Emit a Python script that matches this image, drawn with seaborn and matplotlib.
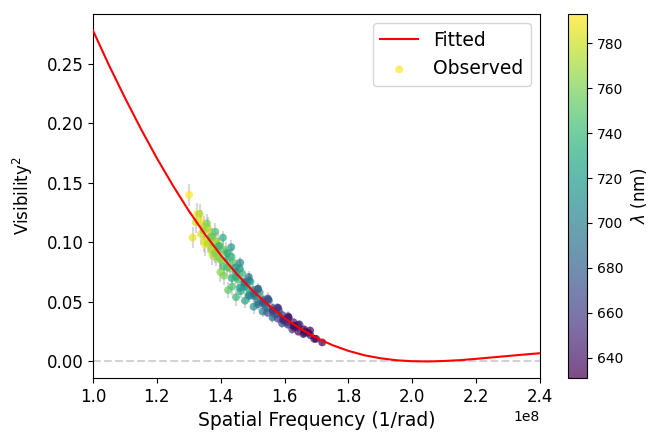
# Squared visibility vs spatial frequency - uniform disk fit
import numpy as np
import pandas as pd
import matplotlib
matplotlib.use("Agg")
import matplotlib.pyplot as plt
import seaborn as sns

# wavelength channels (nm), short -> long
wavelength = [631, 638, 645, 651, 658, 665, 672, 678, 685, 692, 699, 705, 712,
              719, 726, 732, 739, 746, 753, 759, 766, 773, 780, 786, 793]
v2_err = [0.003, 0.003, 0.003, 0.004, 0.004, 0.004, 0.004, 0.004, 0.005, 0.005,
          0.005, 0.005, 0.006, 0.006, 0.006, 0.006, 0.007, 0.007, 0.007, 0.008,
          0.008, 0.008, 0.009, 0.009, 0.009]

# spatial frequency (1e8 / rad) and V^2 for five baselines
sf_b1 = [1.630, 1.612, 1.597, 1.580, 1.563, 1.549, 1.533, 1.517, 1.504, 1.488, 1.474, 1.461, 1.447,
         1.433, 1.421, 1.407, 1.394, 1.383, 1.370, 1.357, 1.346, 1.334, 1.322, 1.312, 1.301]
v2_b1 = [0.030, 0.037, 0.035, 0.045, 0.043, 0.052, 0.050, 0.061, 0.057, 0.071, 0.066, 0.083, 0.079,
         0.096, 0.091, 0.104, 0.097, 0.109, 0.105, 0.116, 0.110, 0.124, 0.117, 0.104, 0.140]

sf_b2 = [1.661, 1.643, 1.628, 1.610, 1.593, 1.579, 1.563, 1.546, 1.533, 1.517, 1.502, 1.489, 1.475,
         1.460, 1.448, 1.434, 1.421, 1.409, 1.396, 1.383, 1.373, 1.360, 1.348, 1.338, 1.326]
v2_b2 = [0.027, 0.025, 0.033, 0.031, 0.039, 0.036, 0.045, 0.041, 0.052, 0.048, 0.060, 0.055, 0.067,
         0.062, 0.075, 0.070, 0.086, 0.080, 0.097, 0.091, 0.104, 0.099, 0.113, 0.107, 0.124]

sf_b3 = [1.680, 1.661, 1.643, 1.628, 1.611, 1.594, 1.577, 1.563, 1.547, 1.532, 1.516, 1.504, 1.489,
         1.474, 1.460, 1.448, 1.434, 1.421, 1.408, 1.397, 1.384, 1.371, 1.359, 1.349, 1.337]
v2_b3 = [0.026, 0.024, 0.031, 0.029, 0.038, 0.035, 0.045, 0.042, 0.053, 0.049, 0.061, 0.055, 0.068,
         0.063, 0.078, 0.071, 0.088, 0.079, 0.094, 0.086, 0.101, 0.094, 0.112, 0.101, 0.118]

sf_b4 = [1.693, 1.674, 1.659, 1.641, 1.624, 1.609, 1.592, 1.576, 1.562, 1.546, 1.531, 1.518, 1.503,
         1.488, 1.476, 1.462, 1.448, 1.436, 1.423, 1.410, 1.399, 1.386, 1.374, 1.363, 1.351]
v2_b4 = [0.019, 0.024, 0.023, 0.029, 0.027, 0.033, 0.032, 0.040, 0.037, 0.045, 0.042, 0.050, 0.046,
         0.056, 0.051, 0.059, 0.054, 0.063, 0.060, 0.072, 0.075, 0.088, 0.090, 0.102, 0.098]

sf_b5 = [1.718, 1.699, 1.681, 1.665, 1.647, 1.630, 1.613, 1.599, 1.582, 1.566, 1.551, 1.538, 1.522,
         1.508, 1.493, 1.481, 1.467, 1.453, 1.440, 1.428, 1.415, 1.402, 1.390, 1.379, 1.367]
v2_b5 = [0.016, 0.019, 0.022, 0.025, 0.031, 0.029, 0.037, 0.034, 0.043, 0.040, 0.051, 0.047, 0.058,
         0.055, 0.067, 0.062, 0.074, 0.069, 0.083, 0.078, 0.092, 0.085, 0.099, 0.093, 0.106]

# fitted model
fit_sf = [1.00, 1.05, 1.10, 1.15, 1.20, 1.25, 1.30, 1.35, 1.40, 1.45, 1.50, 1.55, 1.60, 1.65, 1.70,
          1.75, 1.80, 1.85, 1.90, 1.95, 2.00, 2.05, 2.10, 2.15, 2.20, 2.25, 2.30, 2.35, 2.40]
fit_v2 = [0.2780, 0.2489, 0.2215, 0.1954, 0.1708, 0.1479, 0.1266, 0.1071, 0.0894, 0.0736,
          0.0595, 0.0472, 0.0364, 0.0274, 0.0198, 0.0137, 0.0089, 0.0052, 0.0027, 0.0010,
          0.0002, 0.0000, 0.0004, 0.0011, 0.0022, 0.0034, 0.0046, 0.0058, 0.0069]

frames = []
for sf, v2 in [(sf_b1, v2_b1), (sf_b2, v2_b2), (sf_b3, v2_b3), (sf_b4, v2_b4), (sf_b5, v2_b5)]:
    frames.append(pd.DataFrame({"sf": np.array(sf) * 1e8, "v2": v2,
                                "err": v2_err, "wl": wavelength}))
df = pd.concat(frames, ignore_index=True)
df = df.sort_values("wl", ascending=False).reset_index(drop=True)

fit = pd.DataFrame({"sf": np.array(fit_sf) * 1e8, "v2": fit_v2})

wl_min, wl_max = min(wavelength), max(wavelength)

fig = plt.figure(figsize=(6.64, 4.32), dpi=100)
ax = fig.add_axes([93 / 664, 1 - 378 / 432, 447 / 664, 364 / 432])
cax = fig.add_axes([568 / 664, 1 - 378 / 432, 19 / 664, 364 / 432])

ax.errorbar(df["sf"], df["v2"], yerr=df["err"], fmt="none", ecolor="gray",
            alpha=0.3, elinewidth=1.5, zorder=1)
sns.lineplot(data=fit, x="sf", y="v2", color="red", linewidth=1.5,
             label="Fitted", ax=ax, zorder=3)
sns.scatterplot(data=df, x="sf", y="v2", hue="wl", palette="viridis",
                hue_norm=(wl_min, wl_max), s=32, alpha=0.7, linewidth=0,
                legend=False, label="Observed", ax=ax, zorder=2)
ax.axhline(0, color="gray", alpha=0.35, linestyle="--", linewidth=1.5, zorder=0)

ax.set_xlim(1.0e8, 2.4e8)
ax.set_xlabel("Spatial Frequency (1/rad)", fontsize=13.5)
ax.set_ylabel("Visibility$^2$", fontsize=12, labelpad=8)
ax.tick_params(labelsize=12)
ax.xaxis.get_offset_text().set_fontsize(10)
ax.legend(loc="upper right", fontsize=13.5)

sm = plt.cm.ScalarMappable(cmap="viridis", norm=plt.Normalize(wl_min, wl_max))
cbar = fig.colorbar(sm, cax=cax, alpha=0.7)
cbar.set_label(r"$\lambda$ (nm)", fontsize=12)
cbar.ax.tick_params(labelsize=10)

plt.savefig("out.png", dpi=100)
